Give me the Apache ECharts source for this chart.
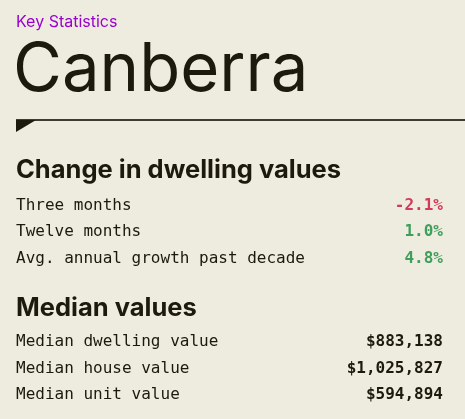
<!DOCTYPE html><html><head><meta charset="utf-8">
<script src="https://cdn.jsdelivr.net/npm/echarts@6/dist/echarts.min.js"></script>
<style>html,body{margin:0;background:#eeebdf}#c{width:465px;height:419px}</style></head><body><div id="c"></div>
<script>
const kicker = 'Key Statistics';
const city = 'Canberra';
const changeTitle = 'Change in dwelling values';
const changeLabels = ['Three months', 'Twelve months', 'Avg. annual growth past decade'];
const changeValues = ['-2.1%', '1.0%', '4.8%'];
const medianTitle = 'Median values';
const medianLabels = ['Median dwelling value', 'Median house value', 'Median unit value'];
const medianValues = ['$883,138', '$1,025,827', '$594,894'];

const dark = '#1c1a0c';
const mono = '"DejaVu Sans Mono", monospace';
const els = [
  {type:'text', left:16, top:14, style:{text:kicker, font:'16px Inter, "Noto Sans", sans-serif', fill:'#9a00d0'}},
  {type:'text', left:13, top:37, style:{text:city, font:'67px Inter, "Noto Sans", sans-serif', fill:dark}},
  {type:'line', shape:{x1:16,y1:120,x2:465,y2:120}, style:{stroke:'#000',lineWidth:1.3}},
  {type:'polygon', shape:{points:[[16,120],[36,120],[16,132]]}, style:{fill:dark}},
  {type:'text', left:16, top:157, style:{text:changeTitle, font:'bold 25.5px Inter, "Noto Sans", sans-serif', fill:dark}},
  {type:'text', left:16, top:295, style:{text:medianTitle, font:'bold 25.5px Inter, "Noto Sans", sans-serif', fill:dark}}
];
const changeY = [206, 232, 259], medianY = [342, 369, 395];
changeLabels.forEach((l,i)=>{
  const v = changeValues[i];
  els.push({type:'text', x:16, y:changeY[i], style:{text:l, font:'16px '+mono, fill:dark, verticalAlign:'middle'}});
  els.push({type:'text', x:443, y:changeY[i], style:{text:v, font:'bold 16px '+mono, fill: v.startsWith('-')?'#d23c5a':'#3f9e5c', align:'right', verticalAlign:'middle'}});
});
medianLabels.forEach((l,i)=>{
  els.push({type:'text', x:16, y:medianY[i], style:{text:l, font:'16px '+mono, fill:dark, verticalAlign:'middle'}});
  els.push({type:'text', x:443, y:medianY[i], style:{text:medianValues[i], font:'bold 16px '+mono, fill:dark, align:'right', verticalAlign:'middle'}});
});
const chart = echarts.init(document.getElementById('c'));
chart.setOption({backgroundColor:'#eeebdf', graphic:{elements:els}});
</script></body></html>
